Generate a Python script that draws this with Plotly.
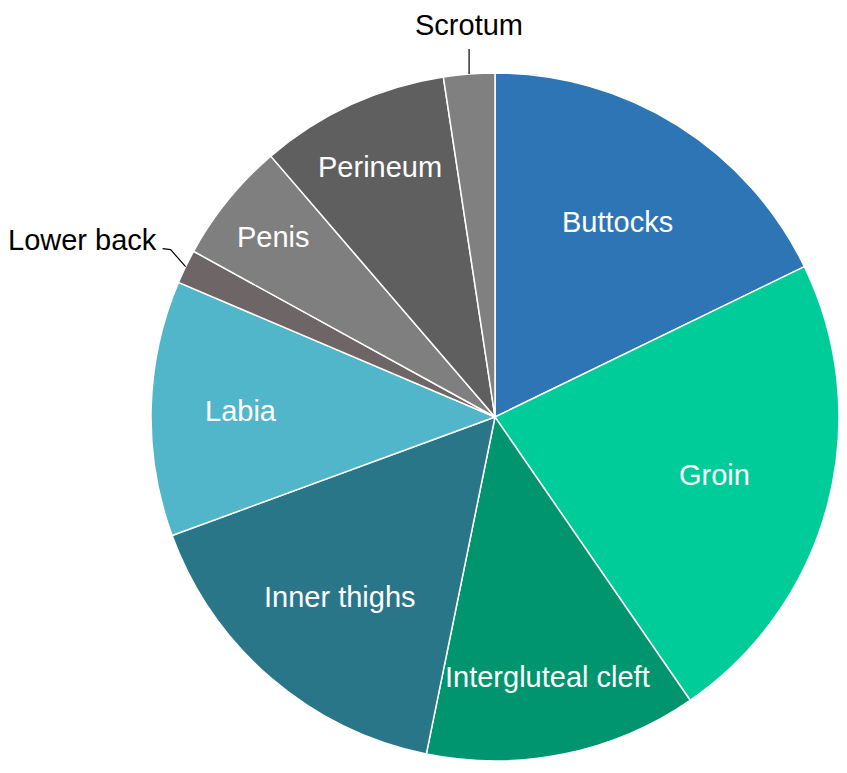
import math
import plotly.graph_objects as go

# Slices clockwise from 12 o'clock (percent of cases)
sites = ["Buttocks", "Groin", "Intergluteal cleft", "Inner thighs", "Labia",
         "Lower back", "Penis", "Perineum", "Scrotum"]
shares = [17.8, 22.6, 12.8, 16.2, 12.0, 1.6, 5.7, 8.9, 2.4]
colors = ["#2E75B6", "#00CC99", "#00956E", "#2A7689", "#52B6CB",
          "#6E6666", "#7F7F7F", "#5F5F5F", "#808080"]

# label placement: fraction of radius along slice bisector (None = outside label)
label_r = [0.67, 0.66, 0.77, 0.69, 0.74, None, 0.83, 0.80, None]

# the page body has an 8px margin, keep the figure inside the window
OFF = 8
W, H = 831, 757
ML, MT, MR, MB = 143, 65, 0, 4
PW, PH = W - ML - MR, H - MT - MB
R = min(PW, PH) / 2
CX, CY = OFF + ML + PW / 2, OFF + MT + PH / 2   # window pixel coords

FONT = "Liberation Sans, Arial, sans-serif"
FS = 29


def to_paper(px, py):
    return (px - OFF - ML) / PW, ((H - MB) - (py - OFF)) / PH


def slice_point(mid_deg, frac):
    a = math.radians(mid_deg)
    return CX + frac * R * math.sin(a), CY - frac * R * math.cos(a)


fig = go.Figure(go.Pie(
    labels=sites, values=shares, sort=False, direction="clockwise", rotation=0,
    marker=dict(colors=colors, line=dict(color="white", width=1.5)),
    textinfo="none", hoverinfo="label+percent", showlegend=False,
))

total = sum(shares)
start = 0.0
annotations = []
shapes = []
for name, v, rf in zip(sites, shares, label_r):
    span = v / total * 360
    mid = start + span / 2
    start += span
    if rf is not None:
        x, y = to_paper(*slice_point(mid, rf))
        annotations.append(dict(x=x, y=y, xref="paper", yref="paper", text=name,
                                xanchor="center", yanchor="middle", showarrow=False,
                                font=dict(family=FONT, size=FS, color="white")))
    else:
        ex, ey = slice_point(mid, 1.0)
        if name == "Scrotum":
            pts = [(ex, ey), (ex, ey - 25)]
            lx, ly = to_paper(ex, ey - 49)
            annotations.append(dict(x=lx, y=ly, xref="paper", yref="paper", text=name,
                                    xanchor="center", yanchor="middle", showarrow=False,
                                    font=dict(family=FONT, size=FS, color="black")))
        else:
            pts = [(ex, ey), (ex - 15, ey - 17), (ex - 23, ey - 18)]
            lx, ly = to_paper(ex - 27, ey - 27)
            annotations.append(dict(x=lx, y=ly, xref="paper", yref="paper", text=name,
                                    xanchor="right", yanchor="middle", showarrow=False,
                                    font=dict(family=FONT, size=FS, color="black")))
        path = "M " + " L ".join("%f,%f" % to_paper(px, py) for px, py in pts)
        shapes.append(dict(type="path", path=path, xref="paper", yref="paper",
                           line=dict(color="black", width=1.2)))

fig.update_layout(
    width=W, height=H,
    margin=dict(l=ML, r=MR, t=MT, b=MB),
    paper_bgcolor="white", plot_bgcolor="white",
    annotations=annotations, shapes=shapes,
)

fig.write_html("out.html")
